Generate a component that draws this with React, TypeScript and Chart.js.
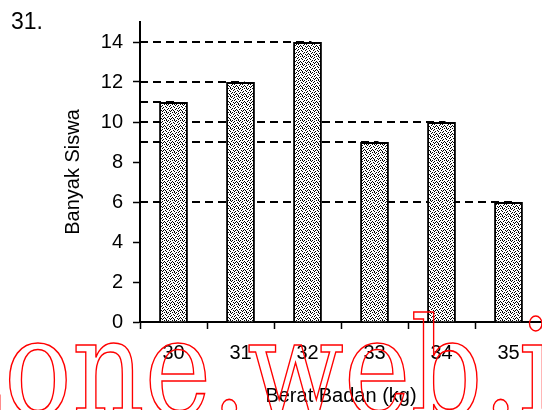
import React, { useEffect, useRef } from "react";
import { Chart, registerables } from "chart.js";

Chart.register(...registerables);

const categories: string[] = ["30", "31", "32", "33", "34", "35"];
const studentCounts: number[] = [11, 12, 14, 9, 10, 6];
const yTickValues: number[] = [0, 2, 4, 6, 8, 10, 12, 14];
const yTitle = "Banyak Siswa";
const xTitle = "Berat Badan (kg)";
const questionLabel = "31.";
const watermarkHead = "z";
const watermarkTail = "one.web.id";

const FONT = "'Liberation Sans', Arial, sans-serif";

function makeStipple(): CanvasPattern | string {
  const rows = [
    "10001010",
    "00100001",
    "01000100",
    "00010010",
    "10100000",
    "00001001",
    "01010100",
    "00100010",
  ];
  const c = document.createElement("canvas");
  c.width = 8;
  c.height = 8;
  const g = c.getContext("2d");
  if (!g) return "#888";
  g.fillStyle = "#fff";
  g.fillRect(0, 0, 8, 8);
  g.fillStyle = "#000";
  rows.forEach((r, y) => {
    for (let x = 0; x < r.length; x++) if (r[x] === "1") g.fillRect(x, y, 1, 1);
  });
  const p = g.createPattern(c, "repeat");
  return p || "#888";
}

const guideLines = {
  id: "guideLines",
  beforeDatasetsDraw(chart: any) {
    const { ctx, chartArea } = chart;
    const meta = chart.getDatasetMeta(0);
    ctx.save();
    ctx.strokeStyle = "#000";
    ctx.lineWidth = 2;
    ctx.setLineDash([8, 5]);
    meta.data.forEach((el: any) => {
      ctx.beginPath();
      ctx.moveTo(chartArea.left, el.y);
      ctx.lineTo(el.x + 4, el.y);
      ctx.stroke();
    });
    ctx.restore();
  },
};

export default function App() {
  const ref = useRef<HTMLCanvasElement | null>(null);

  useEffect(() => {
    if (!ref.current) return;
    const pattern = makeStipple();
    const chart = new Chart(ref.current, {
      type: "bar",
      data: {
        labels: categories,
        datasets: [
          {
            data: studentCounts,
            backgroundColor: pattern as any,
            borderColor: "#000",
            borderWidth: 2,
            categoryPercentage: 1,
            barPercentage: 0.43,
          },
        ],
      },
      options: {
        responsive: false,
        animation: false,
        layout: { padding: { top: 21, left: 0, right: 0, bottom: 0 } },
        plugins: { legend: { display: false }, tooltip: { enabled: false } },
        scales: {
          x: {
            grid: {
              drawOnChartArea: false,
              tickLength: 7,
              tickWidth: 1.5,
              tickColor: "#000",
              offset: true,
            },
            border: { color: "#000", width: 2 },
            ticks: {
              color: "#000",
              font: { family: FONT, size: 20 },
              padding: 12,
              maxRotation: 0,
            },
            title: {
              display: true,
              text: xTitle,
              color: "#000",
              font: { family: FONT, size: 20 },
              padding: { top: 0, bottom: 2 },
            },
            afterFit: (scale: any) => {
              scale.height = 88;
            },
          },
          y: {
            min: 0,
            max: 15,
            grid: {
              drawOnChartArea: false,
              tickLength: 7,
              tickWidth: 1.5,
              tickColor: "#000",
            },
            border: { color: "#000", width: 2 },
            ticks: {
              color: "#000",
              font: { family: FONT, size: 20 },
              padding: 10,
            },
            afterBuildTicks: (scale: any) => {
              scale.ticks = yTickValues.map((v) => ({ value: v }));
            },
            title: {
              display: true,
              text: yTitle,
              color: "#000",
              font: { family: FONT, size: 20 },
              padding: { top: 61, bottom: 0 },
            },
            afterFit: (scale: any) => {
              scale.width = 140;
            },
          },
        },
      },
      plugins: [guideLines],
    });
    return () => chart.destroy();
  }, []);

  const sx = 1.035;
  const sy = 1.237;
  const wmProps = {
    y: 415 / sy,
    transform: `scale(${sx},${sy})`,
    fontFamily: "DejaVu Serif",
    fontSize: 109,
    fill: "none",
    stroke: "#ff0000",
    strokeWidth: 1.3,
  };

  return (
    <div
      style={{
        position: "absolute",
        left: 0,
        top: 0,
        width: 542,
        height: 410,
        overflow: "hidden",
        background: "#fff",
      }}
    >
      <canvas ref={ref} width={542} height={410} style={{ position: "absolute", left: 0, top: 0 }} />
      <div
        style={{
          position: "absolute",
          left: 11,
          top: 8,
          fontFamily: FONT,
          fontSize: 23,
          color: "#000",
          lineHeight: 1.15,
        }}
      >
        {questionLabel}
      </div>
      <svg
        width={542}
        height={410}
        style={{ position: "absolute", left: 0, top: 0, pointerEvents: "none" }}
      >
        <text x={4 / sx} textAnchor="end" {...wmProps}>
          {watermarkHead}
        </text>
        <text x={4 / sx} textAnchor="start" {...wmProps}>
          {watermarkTail}
        </text>
      </svg>
    </div>
  );
}
